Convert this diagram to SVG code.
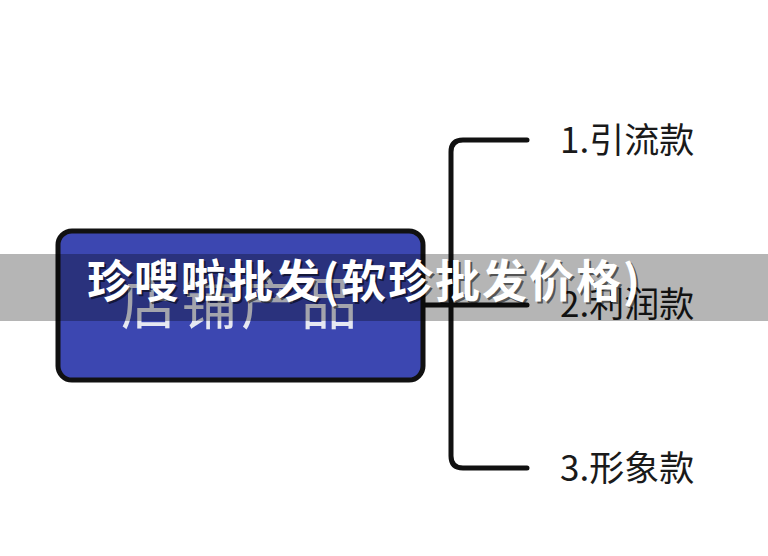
<svg xmlns="http://www.w3.org/2000/svg" width="768" height="556" viewBox="0 0 768 556">
<style>
.lbl{font-family:"Noto Sans CJK SC","Noto Sans",sans-serif;font-size:35px;fill:#1a1a1a}
.conn{fill:none;stroke:#111;stroke-width:5;stroke-linecap:round;stroke-linejoin:round}
.title{font-family:"Noto Sans CJK SC",sans-serif;font-size:45px;font-weight:bold}
</style>
<rect width="768" height="556" fill="#ffffff"/>
<g id="connectors">
<path class="conn" d="M425 305 H450"/>
<path class="conn" d="M527 140 H463 Q451 140 451 152 V456 Q451 468 463 468 H527"/>
<path class="conn" d="M451 305 H527"/>
</g>
<g id="root">
<rect x="58" y="231" width="365" height="149" rx="14" ry="14" fill="#3c47b1" stroke="#111" stroke-width="5"/>
<text x="121" y="324" font-family="'Noto Sans CJK SC',sans-serif" font-size="56" letter-spacing="4" fill="#e6e8f2">店铺产品</text>
</g>
<g id="n1"><text class="lbl" x="560" y="153">1.引流款</text></g>
<g id="n2"><text class="lbl" x="560" y="317">2.利润款</text></g>
<g id="n3"><text class="lbl" x="560" y="481">3.形象款</text></g>
<rect x="0" y="254" width="768" height="67" fill="#000" fill-opacity="0.29"/>
<g id="overlay">
<text class="title" x="89" y="300" fill="#000" fill-opacity="0.55" textLength="553" lengthAdjust="spacing">珍嗖啦批发(软珍批发价格)</text>
<text class="title" x="87" y="298" fill="#ffffff" textLength="553" lengthAdjust="spacing">珍嗖啦批发(软珍批发价格)</text>
</g>
</svg>
